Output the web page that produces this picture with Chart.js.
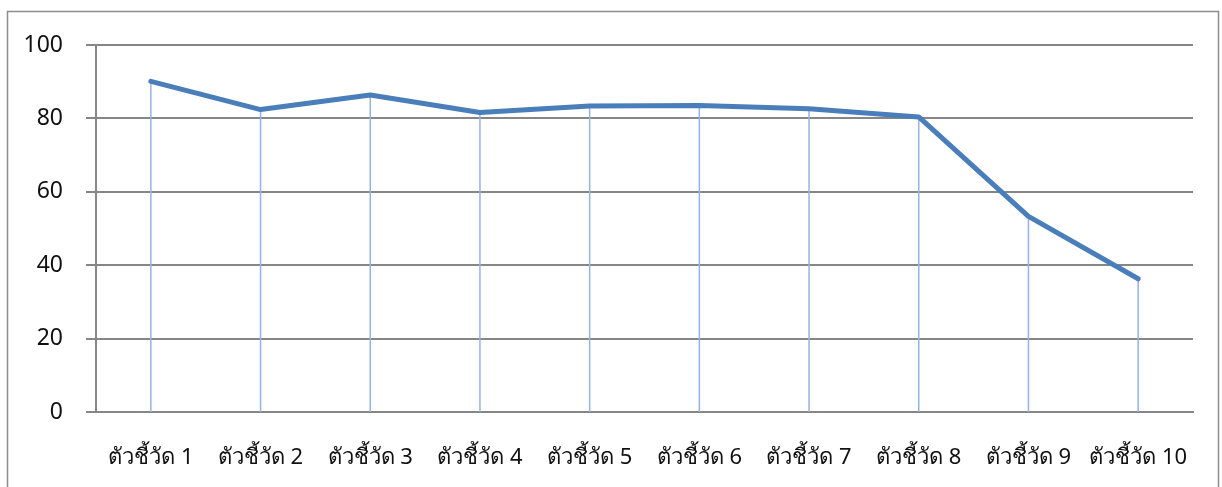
<!DOCTYPE html>
<html>
<head>
<meta charset="utf-8">
<script src="https://cdn.jsdelivr.net/npm/chart.js@4"></script>
<style>
  html, body { margin: 0; padding: 0; background: #fff; }
  #wrap { width: 1222px; height: 487px; }
</style>
</head>
<body>
<div id="wrap"><canvas id="chart" width="1222" height="487"></canvas></div>
<script>
// ข้อมูลกราฟ
const categories = ['ตัวชี้วัด 1', 'ตัวชี้วัด 2', 'ตัวชี้วัด 3', 'ตัวชี้วัด 4', 'ตัวชี้วัด 5',
                    'ตัวชี้วัด 6', 'ตัวชี้วัด 7', 'ตัวชี้วัด 8', 'ตัวชี้วัด 9', 'ตัวชี้วัด 10'];
const values = [90.1, 82.4, 86.4, 81.6, 83.4, 83.5, 82.6, 80.4, 53.3, 36.3];
const yTicks = [0, 20, 40, 60, 80, 100];

const FONT = "'Noto Sans', 'DejaVu Sans', sans-serif";

// กรอบนอกของแผนภูมิ
const outerBorder = {
    id: 'outerBorder',
    beforeDraw(chart) {
        const ctx = chart.ctx;
        ctx.save();
        ctx.strokeStyle = '#8c8c8c';
        ctx.lineWidth = 1.5;
        ctx.strokeRect(7.5, 11.5, 1211, 520);
        ctx.restore();
    }
};

// เส้นตั้งจากจุดลงแกน (drop lines)
const dropLines = {
    id: 'dropLines',
    beforeDatasetsDraw(chart) {
        const ctx = chart.ctx;
        const meta = chart.getDatasetMeta(0);
        const bottom = chart.scales.y.getPixelForValue(0);
        ctx.save();
        ctx.strokeStyle = '#95b3e0';
        ctx.lineWidth = 1.5;
        meta.data.forEach(pt => {
            ctx.beginPath();
            ctx.moveTo(pt.x, pt.y);
            ctx.lineTo(pt.x, bottom);
            ctx.stroke();
        });
        ctx.restore();
    }
};

new Chart(document.getElementById('chart'), {
    type: 'line',
    data: {
        labels: categories,
        datasets: [{
            data: values,
            borderColor: '#4a7ebb',
            borderWidth: 5,
            borderCapStyle: 'round',
            borderJoinStyle: 'round',
            pointRadius: 0,
            tension: 0,
            fill: false
        }]
    },
    options: {
        responsive: false,
        animation: false,
        layout: { padding: { top: 45, right: 29, left: 0, bottom: 0 } },
        plugins: { legend: { display: false }, tooltip: { enabled: false } },
        scales: {
            x: {
                offset: true,
                grid: { display: false, drawTicks: false },
                border: { display: true, color: '#868686', width: 2 },
                ticks: {
                    color: '#111',
                    font: { family: FONT, size: 22 },
                    padding: 33,
                    maxRotation: 0,
                    autoSkip: false
                },
                afterFit(scale) { scale.height = 75; }
            },
            y: {
                min: 0,
                max: 100,
                afterBuildTicks(scale) { scale.ticks = yTicks.map(v => ({ value: v })); },
                grid: { color: '#868686', lineWidth: 2, tickLength: 10, drawTicks: true },
                border: { display: true, color: '#868686', width: 2 },
                ticks: {
                    color: '#111',
                    font: { family: FONT, size: 23 },
                    padding: 23
                },
                afterFit(scale) { scale.width = 96; }
            }
        }
    },
    plugins: [outerBorder, dropLines]
});
</script>
</body>
</html>
